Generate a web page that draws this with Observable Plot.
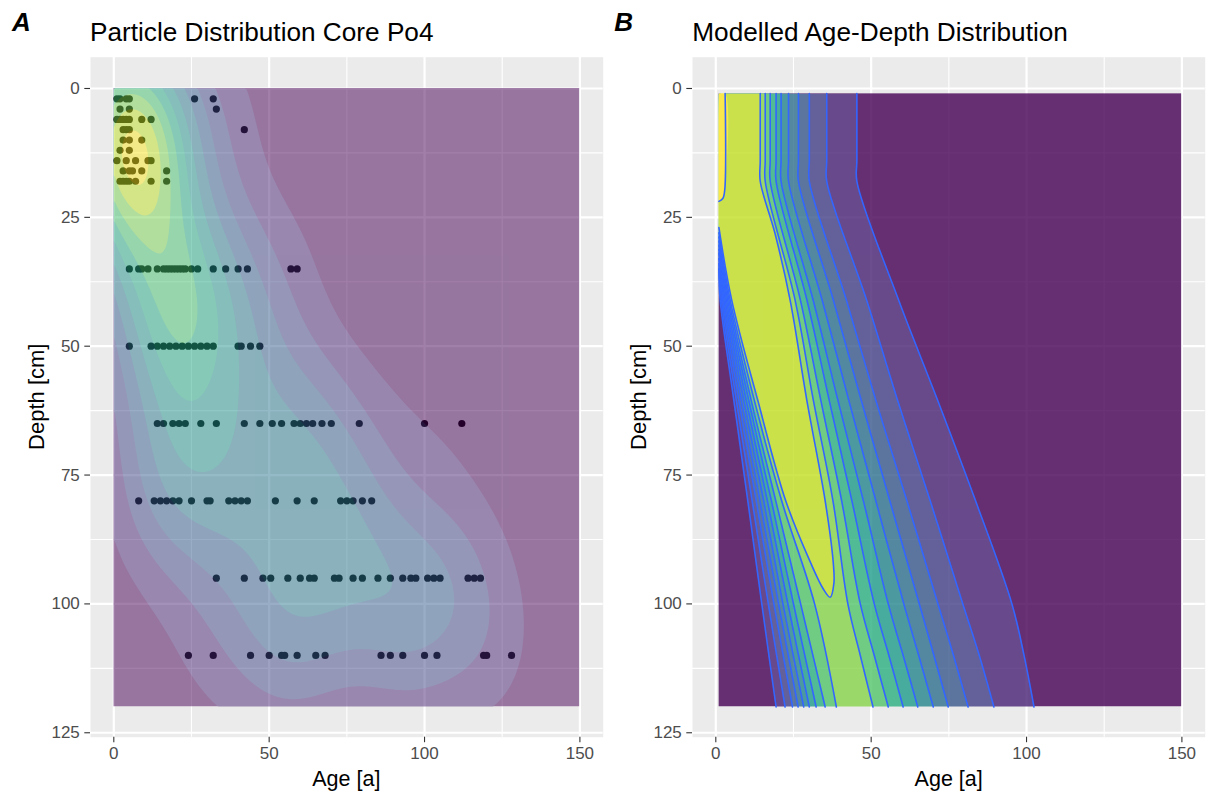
<!DOCTYPE html>
<html><head><meta charset="utf-8">
<script src="https://cdn.jsdelivr.net/npm/d3@7"></script>
<script src="https://cdn.jsdelivr.net/npm/@observablehq/plot@0.6"></script>
<style>
body{margin:0;background:#fff;}
#page{position:relative;width:1208px;height:794px;overflow:hidden;background:#fff;}
.panel{position:absolute;top:0;}
#overlay{position:absolute;left:0;top:0;}
</style></head><body><div id="page"></div>
<script>
// ---------------- Panel A data: particle ages per sampled depth ----------------
const rowDepths = [2, 4, 6, 8, 10, 12, 14, 16, 18, 35, 50, 65, 80, 95, 110];
const rowAges = [
  [1, 2, 4, 5, 26, 32],
  [2, 5, 33],
  [1, 2, 3, 4, 5, 9, 12],
  [3, 4, 5, 42],
  [3, 5, 9],
  [2, 5],
  [1, 4, 7, 11, 12],
  [3, 5, 6, 9, 17],
  [2, 3, 4, 5, 7, 12, 17],
  [5, 8, 9, 11, 14, 16, 17, 18, 19, 20, 21, 22, 23, 25, 27, 32, 36, 40, 43, 57, 59],
  [5, 12, 14, 16, 18, 20, 22, 24, 26, 28, 30, 32, 40, 41, 44, 47],
  [14, 16, 19, 21, 23, 28, 33, 42, 47, 51, 54, 58, 60, 62, 64, 67, 70, 79, 100, 112],
  [8, 13, 15, 17, 19, 21, 25, 30, 31, 37, 39, 41, 43, 52, 59, 64.5, 73, 75, 77, 80, 83],
  [33, 42, 48, 50.5, 56, 60, 63, 64.5, 71, 72.5, 77, 80, 85, 89, 93, 95.6, 97.2, 101, 103, 105, 114, 116, 118],
  [24, 32, 44, 50, 54, 55, 59, 65, 68, 86, 89, 93, 100, 104, 119, 120, 128]
];
const aAgeRange = [0, 150];
const aDepthRange = [0, 120];

// ---------------- Panel B data: contour boundaries ----------------
const bAgeRange = [1, 150];
const bDepthRange = [1, 120];
const bLevelCount = 12;
// right-hand boundaries of levels 1..9 (age [a]) at these depths [cm]
const bRightDepths = [1, 14, 18, 41, 60.5, 80, 100, 110, 120];
const bRightAges = [
  [45.4, 45.4, 45.4, 58.8, 71.4, 83.6, 95.3, 99.2, 102.4],
  [35.7, 35.7, 35.7, 48.5, 58.5, 69, 79.5, 84.8, 89.5],
  [30.1, 30.1, 30.1, 42, 51.5, 61.5, 71.5, 76.5, 81.2],
  [26.6, 26.6, 26.6, 37.8, 46.8, 56, 65.5, 70.2, 74.8],
  [23.4, 23.4, 23.4, 34.2, 42.8, 51.5, 60.5, 65.3, 70],
  [21, 21, 21, 31.3, 39.3, 47.5, 55.5, 60.3, 65],
  [19.4, 19.4, 19.4, 29.3, 36.5, 43.8, 51, 55.7, 60.3],
  [17.5, 17.5, 17.5, 27.2, 33.8, 40.5, 46.5, 51, 55.5],
  [15.9, 15.9, 15.9, 25.5, 31.4, 37.7, 42.5, 46.5, 50.6]
];
// left-hand boundaries of levels 1..9: depth where each leaves the left edge, then ages at depths
const bLeftStartDepths = [35, 34, 33, 32, 31.2, 30.4, 29.6, 28.8, 28];
const bLeftDepths = [41, 60.5, 80, 100, 120];
const bLeftAges = [
  [1.4, 5.8, 10.3, 14.8, 19.4],
  [1.8, 6.6, 11.7, 16.9, 22.3],
  [2.2, 7.4, 13, 18.7, 24.7],
  [2.6, 8.2, 14.2, 20.2, 26.5],
  [3.0, 9, 15.4, 21.6, 28.3],
  [3.4, 9.8, 16.6, 23.2, 30.1],
  [3.8, 10.6, 17.9, 25, 32.3],
  [4.2, 11.4, 19.3, 27.3, 35.2],
  [4.6, 12.4, 21.2, 31.8, 38.8]
];
// level 10 (closed tongue) and level 11 (top strip), as [age, depth]
const bPeakLeft = [[1, 27], [5.1, 41], [13.5, 60.5], [22.5, 80], [30.5, 92], [34.5, 97], [36.8, 98.7]];
const bPeakRight = [[38, 96], [37.8, 92], [35.2, 80], [29.3, 60.5], [23.9, 41], [19, 28], [14.3, 18], [14.3, 14], [14.3, 1]];
const bTopStrip = [[3, 1], [2.9, 19.5], [2.3, 21.3], [1, 21.9]];

// ---------------- axes / text ----------------
const xTicks = [0, 50, 100, 150];
const xMinor = [25, 75, 125];
const yTicks = [0, 25, 50, 75, 100, 125];
const yMinor = [12.5, 37.5, 62.5, 87.5, 112.5];
const titles = ["Particle Distribution Core Po4", "Modelled Age-Depth Distribution"];
const tags = ["A", "B"];
const xLabel = "Age [a]";
const yLabel = "Depth [cm]";

const FONT = '"Liberation Sans", Arial, Helvetica, sans-serif';
const W = 604, H = 794;
const M = {left: 90, right: 1.3, top: 56.7, bottom: 57.3};
const xDomain = [-7.5, 157.5];
const yDomain = [-6.07, 125.86];
const panelOffsets = [0, 602.3];

function panel(marks, extra = {}) {
  return Plot.plot({
    width: W, height: H,
    marginLeft: M.left, marginRight: M.right, marginTop: M.top, marginBottom: M.bottom,
    x: {domain: xDomain},
    y: {domain: yDomain, reverse: true},
    style: {background: "transparent", fontFamily: FONT, overflow: "visible"},
    ...extra,
    marks: [
      Plot.frame({fill: "#EBEBEB", stroke: "none"}),
      Plot.gridX(xMinor, {stroke: "#fff", strokeOpacity: 1, strokeWidth: 1.1}),
      Plot.gridY(yMinor, {stroke: "#fff", strokeOpacity: 1, strokeWidth: 1.1}),
      Plot.gridX(xTicks, {stroke: "#fff", strokeOpacity: 1, strokeWidth: 2.2}),
      Plot.gridY(yTicks, {stroke: "#fff", strokeOpacity: 1, strokeWidth: 2.2}),
      ...marks,
      Plot.axisX(xTicks, {tickSize: 5.5, tickPadding: 4, fontSize: 17, label: null, color: "#4D4D4D", stroke: "#333333", strokeWidth: 1.1}),
      Plot.axisY(yTicks, {tickSize: 5.7, tickPadding: 5, fontSize: 17, label: null, color: "#4D4D4D", stroke: "#333333", strokeWidth: 1.1})
    ]
  });
}

let clipId = 0;
function wrapBands(svg, opacity, ageRange, depthRange) {
  const ns = "http://www.w3.org/2000/svg";
  const bands = svg.querySelectorAll('g[aria-description="band"]');
  if (!bands.length) return;
  const sx = svg.scale("x"), sy = svg.scale("y");
  const xa = sx.apply(ageRange[0]), xb = sx.apply(ageRange[1]);
  const ya = sy.apply(depthRange[0]), yb = sy.apply(depthRange[1]);
  const id = "bandclip" + (++clipId);
  const cp = document.createElementNS(ns, "clipPath");
  cp.setAttribute("id", id);
  const r = document.createElementNS(ns, "rect");
  r.setAttribute("x", Math.min(xa, xb)); r.setAttribute("y", Math.min(ya, yb));
  r.setAttribute("width", Math.abs(xb - xa)); r.setAttribute("height", Math.abs(yb - ya));
  cp.appendChild(r);
  const defs = document.createElementNS(ns, "defs");
  defs.appendChild(cp);
  svg.insertBefore(defs, svg.firstChild);
  const g = document.createElementNS(ns, "g");
  g.setAttribute("opacity", opacity);
  g.setAttribute("clip-path", `url(#${id})`);
  bands[0].parentNode.insertBefore(g, bands[0]);
  bands.forEach(b => g.appendChild(b));
}

// ---------------- Panel A: 2D kernel density (MASS::kde2d style) ----------------
const pts = rowDepths.flatMap((d, i) => rowAges[i].map(a => ({age: a, depth: d})));
function nrd(v) {
  const s = d3.sort(v);
  const iqr = d3.quantileSorted(s, 0.75) - d3.quantileSorted(s, 0.25);
  return 4 * 1.06 * Math.min(d3.deviation(v), iqr / 1.34) * Math.pow(v.length, -0.2);
}
const hx = nrd(pts.map(p => p.age)) / 4;
const hy = nrd(pts.map(p => p.depth)) / 4;
const phi = u => Math.exp(-0.5 * u * u) * 0.3989422804014327;
const kde = (x, y) => {
  let s = 0;
  for (const p of pts) s += phi((x - p.age) / hx) * phi((y - p.depth) / hy);
  return s / (pts.length * hx * hy);
};
let zmax = 0;
for (let i = 0; i < 100; ++i) for (let j = 0; j < 100; ++j) {
  const z = kde(aAgeRange[0] + i * (aAgeRange[1] - aAgeRange[0]) / 99, aDepthRange[0] + j * (aDepthRange[1] - aDepthRange[0]) / 99);
  if (z > zmax) zmax = z;
}
const step = d3.tickStep(0, zmax, 10);
const breaks = d3.range(0, Math.ceil(zmax / step - 1e-9) * step + step / 2, step);
const nbA = breaks.length - 1;
const colorsA = d3.quantize(d3.interpolateViridis, nbA);
const mids = d3.range(nbA).map(k => (breaks[k] + breaks[k + 1]) / 2);

const svgA = panel([
  Plot.dot(pts, {x: "age", y: "depth", r: 3.6, fill: "#000"}),
  Plot.rect([0], {x1: aAgeRange[0], x2: aAgeRange[1], y1: aDepthRange[0], y2: aDepthRange[1], fill: colorsA[0], ariaDescription: "band"}),
  Plot.contour({fill: kde, x1: aAgeRange[0], x2: aAgeRange[1], y1: aDepthRange[0], y2: aDepthRange[1],
    thresholds: breaks.slice(1, -1), pixelSize: 2, stroke: "none", ariaDescription: "band"})
], {color: {type: "threshold", domain: mids, range: [...colorsA, colorsA[nbA - 1]]}});
wrapBands(svgA, 0.5, aAgeRange, aDepthRange);

// ---------------- Panel B: filled contour bands + contour lines ----------------
const colorsB = d3.quantize(d3.interpolateViridis, bLevelCount);
// continue a boundary past the clipped bottom edge along its last direction (hidden by the clip)
const beyond = (a, b) => [2 * b[0] - a[0], 2 * b[1] - a[1]];
const bandPolys = [];
const lineSets = [];
for (let k = 0; k < 9; ++k) {
  const left = [[bAgeRange[0], bLeftStartDepths[k]], ...bLeftDepths.map((d, j) => [bLeftAges[k][j], d])];
  const right = bRightDepths.map((d, j) => [bRightAges[k][j], d]);
  const nl = left.length, nr = right.length;
  bandPolys.push([[bAgeRange[0], bDepthRange[0]], ...left,
    beyond(left[nl - 2], left[nl - 1]), beyond(right[nr - 2], right[nr - 1]),
    ...right.slice().reverse()]);
  lineSets.push(left.map(p => ({age: p[0], depth: p[1], id: "L" + k})));
  lineSets.push(right.map(p => ({age: p[0], depth: p[1], id: "R" + k})));
}
const peak = [...bPeakLeft, ...bPeakRight];
bandPolys.push([[bAgeRange[0], bDepthRange[0]], ...peak]);
lineSets.push(peak.map(p => ({age: p[0], depth: p[1], id: "P"})));
bandPolys.push([[bAgeRange[0], bDepthRange[0]], ...bTopStrip]);
lineSets.push(bTopStrip.map(p => ({age: p[0], depth: p[1], id: "T"})));
const contourLines = lineSets.flat();

const svgB = panel([
  Plot.rect([0], {x1: bAgeRange[0], x2: bAgeRange[1], y1: bDepthRange[0], y2: bDepthRange[1], fill: colorsB[0], ariaDescription: "band"}),
  ...bandPolys.map((poly, i) => Plot.line(poly, {x: d => d[0], y: d => d[1], curve: "catmull-rom", fill: colorsB[i + 1], stroke: "none", ariaDescription: "band"})),
  Plot.line(contourLines, {x: "age", y: "depth", z: "id", curve: "catmull-rom", stroke: "#3366FF", strokeWidth: 1.6})
]);
wrapBands(svgB, 0.8, bAgeRange, bDepthRange);

const page = document.getElementById("page");
[svgA, svgB].forEach((svg, i) => {
  svg.classList.add("panel");
  svg.style.position = "absolute";
  svg.style.left = panelOffsets[i] + "px";
  svg.style.top = "0px";
  page.appendChild(svg);
});

// ---------------- text overlay ----------------
const ns = "http://www.w3.org/2000/svg";
const ov = document.createElementNS(ns, "svg");
ov.setAttribute("id", "overlay");
ov.setAttribute("width", 1208); ov.setAttribute("height", 794);
ov.style.fontFamily = FONT;
function txt(s, x, y, size, attrs = {}) {
  const t = document.createElementNS(ns, "text");
  t.textContent = s;
  t.setAttribute("x", x); t.setAttribute("y", y);
  t.setAttribute("font-size", size);
  t.setAttribute("fill", "#000");
  for (const k in attrs) t.setAttribute(k, attrs[k]);
  ov.appendChild(t);
  return t;
}
panelOffsets.forEach((off, i) => {
  txt(tags[i], 12 + off, 31, 26, {"font-weight": "bold", "font-style": "italic"});
  txt(titles[i], M.left + off, 40.5, 26.2);
  const cx = off + M.left + (W - M.left - M.right) / 2;
  txt(xLabel, cx, 786, 21.5, {"text-anchor": "middle"});
  const cy = M.top + (H - M.top - M.bottom) / 2;
  txt(yLabel, 0, 0, 22, {"text-anchor": "middle", transform: `translate(${off + 43.5},${cy}) rotate(-90)`});
});
page.appendChild(ov);
</script></body></html>
